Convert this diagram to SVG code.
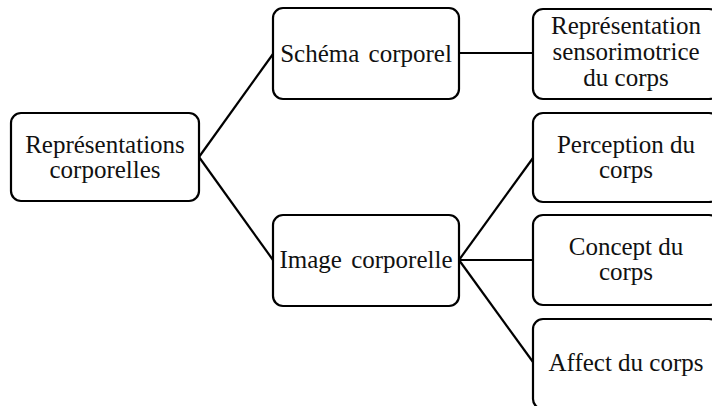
<svg xmlns="http://www.w3.org/2000/svg" width="712" height="406" viewBox="0 0 712 406">
<style>
.box{fill:#fff;stroke:#000;stroke-width:2.2}
.lbl{font-family:"Liberation Serif","Times New Roman",serif;font-size:25px;fill:#111;text-anchor:middle}
.edge{stroke:#000;stroke-width:2.2;fill:none}
</style>
<rect width="712" height="406" fill="#fff"/>
<g id="connectors">
<line class="edge" x1="199" y1="157" x2="273" y2="54"/>
<line class="edge" x1="199" y1="157" x2="273" y2="260"/>
<line class="edge" x1="459" y1="53" x2="533" y2="53"/>
<line class="edge" x1="459" y1="260" x2="533" y2="158"/>
<line class="edge" x1="459" y1="260" x2="533" y2="260"/>
<line class="edge" x1="459" y1="260" x2="533" y2="362"/>
</g>
<g id="root">
<rect class="box" x="11" y="113" width="188" height="88" rx="10"/>
<text class="lbl" x="105" y="153">Représentations</text>
<text class="lbl" x="105" y="178">corporelles</text>
</g>
<g id="schema">
<rect class="box" x="273" y="8" width="186" height="91" rx="10"/>
<text class="lbl" x="366" y="62" word-spacing="3">Schéma corporel</text>
</g>
<g id="image">
<rect class="box" x="273" y="215" width="186" height="91" rx="10"/>
<text class="lbl" x="366" y="268" word-spacing="3">Image corporelle</text>
</g>
<g id="sensori">
<rect class="box" x="533" y="9" width="186" height="90" rx="10"/>
<text class="lbl" x="626" y="34">Représentation</text>
<text class="lbl" x="626" y="60">sensorimotrice</text>
<text class="lbl" x="626" y="86">du corps</text>
</g>
<g id="perception">
<rect class="box" x="533" y="113" width="186" height="89" rx="10"/>
<text class="lbl" x="626" y="153">Perception du</text>
<text class="lbl" x="626" y="178">corps</text>
</g>
<g id="concept">
<rect class="box" x="533" y="215" width="186" height="90" rx="10"/>
<text class="lbl" x="626" y="255">Concept du</text>
<text class="lbl" x="626" y="280">corps</text>
</g>
<g id="affect">
<rect class="box" x="533" y="319" width="186" height="90" rx="10"/>
<text class="lbl" x="626" y="371">Affect du corps</text>
</g>
</svg>
